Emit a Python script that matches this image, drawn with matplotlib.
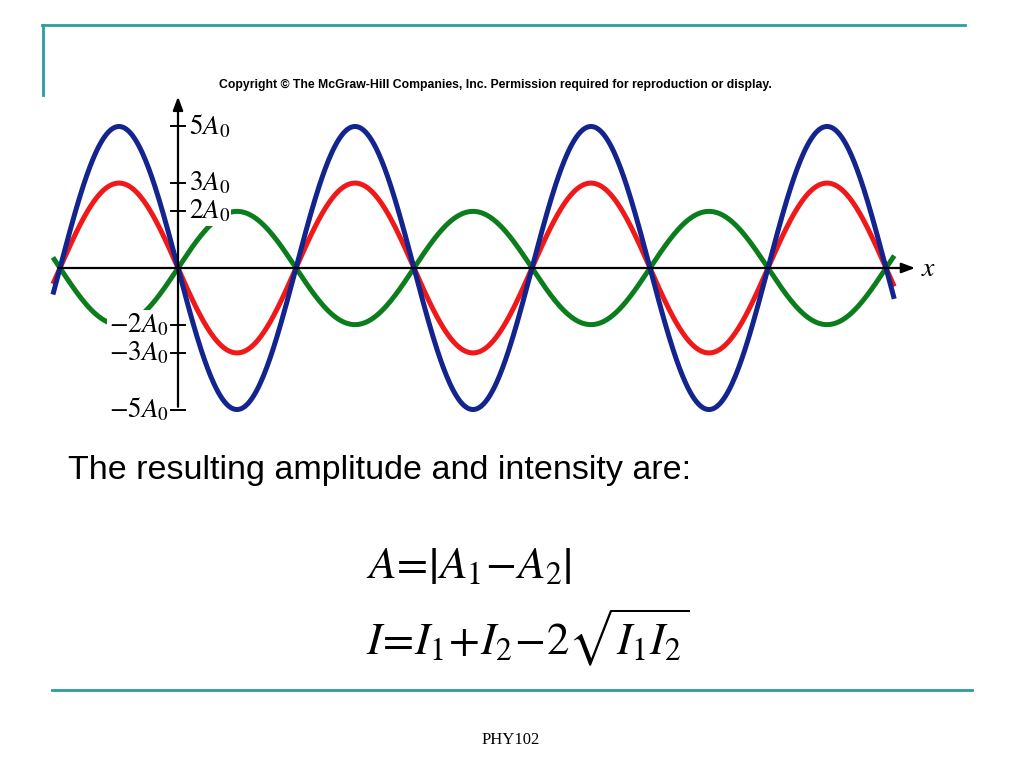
import numpy as np
from matplotlib import pyplot as plt

plt.rcParams["mathtext.fontset"] = "stix"

# wave amplitudes in units of A0 (blue and red in phase, green inverted)
amp_blue = 5
amp_red = 3
amp_green = -2
tick_values = [5, 3, 2, -2, -3, -5]
tick_labels = [r"$5A_0$", r"$3A_0$", r"$2A_0$", r"$-2A_0$", r"$-3A_0$", r"$-5A_0$"]

x_start, x_end = -0.06, 7.07  # x in half wavelengths

teal = "#2a9d9f"

fig = plt.figure(figsize=(10.24, 7.68), dpi=100)

# slide decoration
deco = fig.add_axes([0, 0, 1, 1])
deco.set_xlim(0, 1024)
deco.set_ylim(768, 0)
deco.axis("off")
deco.plot([42, 965], [25, 25], color=teal, lw=2)
deco.plot([43, 43], [25, 95], color=teal, lw=2)
deco.plot([52, 972], [690, 690], color=teal, lw=2)
deco.text(495, 85, "Copyright \u00a9 The McGraw-Hill Companies, Inc. Permission required for reproduction or display.",
          ha="center", va="center", fontsize=8.8, fontweight="bold", family="Liberation Sans")
deco.text(68, 470, "The resulting amplitude and intensity are:", ha="left", va="center",
          fontsize=24.5, family="Liberation Sans")
deco.text(366, 566, r"$A\!=\!\left|A_1\!-\!A_2\right|$", ha="left", va="center", fontsize=32.5)
deco.text(366, 638, r"$I\!=\!I_1\!+\!I_2\!-\!2\sqrt{I_1I_2}$", ha="left", va="center", fontsize=32.5)
deco.text(511, 740, "PHY102", ha="center", va="center", fontsize=12, family="Liberation Serif")

# wave plot: 118 px per half wavelength, 28.3 px per A0
ax = fig.add_axes([1 / 1024, 316 / 768, 1003 / 1024, 368 / 768])
ax.set_xlim(-0.5, 8.0)
ax.set_ylim(-6.5, 6.5)
ax.axis("off")

x = np.linspace(x_start, x_end, 800)
ax.plot(x, amp_green * np.sin(np.pi * x), color="#0b7d1c", lw=3.6, zorder=2, solid_capstyle="butt")
ax.plot(x, amp_red * np.sin(np.pi * x), color="#f01818", lw=3.6, zorder=3, solid_capstyle="butt")
ax.plot(x, amp_blue * np.sin(np.pi * x), color="#13248f", lw=3.6, zorder=4, solid_capstyle="butt")

# axes with arrows
ax.annotate("", xy=(7.27, 0), xytext=(-0.04, 0),
            arrowprops=dict(arrowstyle="-|>,head_length=0.8,head_width=0.3", color="black", lw=1.6), zorder=5)
ax.annotate("", xy=(1.0, 6.15), xytext=(1.0, -5.0),
            arrowprops=dict(arrowstyle="-|>,head_length=0.8,head_width=0.3", color="black", lw=1.6), zorder=5)
ax.text(7.36, 0, r"$x$", ha="center", va="center", fontsize=20, zorder=6)

for val, lab in zip(tick_values, tick_labels):
    ax.plot([0.94, 1.06], [val, val], color="black", lw=1.4, zorder=5)
    if val > 0:
        ax.text(1.09, val, lab, ha="left", va="center", fontsize=19.5, zorder=6,
                bbox=dict(facecolor="white", edgecolor="none", pad=1.0))
    else:
        ax.text(0.92, val, lab, ha="right", va="center", fontsize=19.5, zorder=6,
                bbox=dict(facecolor="white", edgecolor="none", pad=1.0))

fig.savefig("out.png", dpi=100)
